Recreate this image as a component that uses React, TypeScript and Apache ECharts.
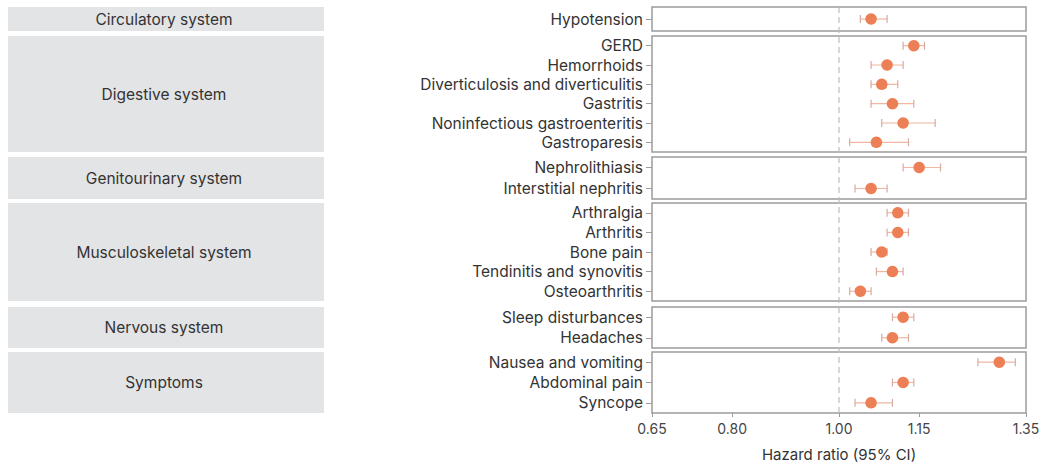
import React, { useEffect, useRef } from "react";
import * as echarts from "echarts";

const groupNames = [
  "Circulatory system",
  "Digestive system",
  "Genitourinary system",
  "Musculoskeletal system",
  "Nervous system",
  "Symptoms",
];
const groupSizes = [1, 6, 2, 5, 2, 3];
const rowNames = [
  "Hypotension",
  "GERD",
  "Hemorrhoids",
  "Diverticulosis and diverticulitis",
  "Gastritis",
  "Noninfectious gastroenteritis",
  "Gastroparesis",
  "Nephrolithiasis",
  "Interstitial nephritis",
  "Arthralgia",
  "Arthritis",
  "Bone pain",
  "Tendinitis and synovitis",
  "Osteoarthritis",
  "Sleep disturbances",
  "Headaches",
  "Nausea and vomiting",
  "Abdominal pain",
  "Syncope",
];
const hrValues = [1.06, 1.14, 1.09, 1.08, 1.1, 1.12, 1.07, 1.15, 1.06, 1.11, 1.11, 1.08, 1.1, 1.04, 1.12, 1.1, 1.3, 1.12, 1.06];
const ciLow = [1.04, 1.12, 1.06, 1.06, 1.06, 1.08, 1.02, 1.12, 1.03, 1.09, 1.09, 1.06, 1.07, 1.02, 1.1, 1.08, 1.26, 1.1, 1.03];
const ciHigh = [1.09, 1.16, 1.12, 1.11, 1.14, 1.18, 1.13, 1.19, 1.09, 1.13, 1.13, 1.09, 1.12, 1.06, 1.14, 1.13, 1.33, 1.14, 1.1];
const xTicks = [0.65, 0.8, 1.0, 1.15, 1.35];
const xMin = 0.65;
const xMax = 1.35;
const refValue = 1.0;

// layout (pixels)
const boxTops = [7, 36, 157, 203, 307, 352];
const boxBottoms = [31, 152, 199, 301, 348, 413];
const plotLeft = 652;
const plotRight = 1026;
const leftBoxX = 8;
const leftBoxW = 316;
const FONT = "Inter, Roboto, sans-serif";

export default function App() {
  const ref = useRef<HTMLDivElement>(null);
  useEffect(() => {
    document.body.style.margin = "0";
    const chart = echarts.init(ref.current!, null, { renderer: "svg" });
    const W = 1064;
    const grids: any[] = [];
    const xAxes: any[] = [];
    const yAxes: any[] = [];
    const series: any[] = [];
    const graphics: any[] = [];
    let start = 0;
    groupNames.forEach((g, gi) => {
      const n = groupSizes[gi];
      const names = rowNames.slice(start, start + n);
      const isLast = gi === groupNames.length - 1;
      grids.push({
        left: plotLeft,
        right: W - plotRight,
        top: boxTops[gi],
        height: boxBottoms[gi] - boxTops[gi],
        show: true,
        borderColor: "#9c9c9c",
        borderWidth: 1.5,
        backgroundColor: "transparent",
      });
      xAxes.push({
        type: "value",
        gridIndex: gi,
        min: xMin,
        max: xMax,
        splitLine: { show: false },
        axisLine: { show: false },
        axisTick: isLast
          ? { show: true, customValues: xTicks, length: 4, lineStyle: { color: "#9c9c9c" } }
          : { show: false },
        axisLabel: isLast
          ? {
              show: true,
              customValues: xTicks,
              formatter: (v: number) => v.toFixed(2),
              fontFamily: FONT,
              fontSize: 14,
              color: "#444",
              margin: 8,
            }
          : { show: false },
        name: isLast ? "Hazard ratio (95% CI)" : "",
        nameLocation: "middle",
        nameGap: 34,
        nameTextStyle: { fontFamily: FONT, fontSize: 15, color: "#333" },
      });
      yAxes.push({
        type: "category",
        gridIndex: gi,
        data: names,
        inverse: true,
        axisLine: { show: false },
        axisTick: { show: true, alignWithLabel: true, interval: 0, length: 6, lineStyle: { color: "#9c9c9c" } },
        axisLabel: { interval: 0, fontFamily: FONT, fontSize: 15.5, lineHeight: 16, color: "#333", margin: 9 },
        splitLine: { show: false },
      });
      const errData = names.map((_, i) => [ciLow[start + i], ciHigh[start + i], i]);
      series.push({
        type: "custom",
        xAxisIndex: gi,
        yAxisIndex: gi,
        data: errData,
        silent: true,
        renderItem: (params: any, api: any) => {
          const lo = api.coord([api.value(0), api.value(2)]);
          const hi = api.coord([api.value(1), api.value(2)]);
          const c = 4;
          const lineStyle = { stroke: "#f0b6a0", lineWidth: 1.2 };
          const capStyle = { stroke: "#d8aaa2", lineWidth: 1.2 };
          return {
            type: "group",
            children: [
              { type: "line", shape: { x1: lo[0], y1: lo[1], x2: hi[0], y2: hi[1] }, style: lineStyle },
              { type: "line", shape: { x1: lo[0], y1: lo[1] - c, x2: lo[0], y2: lo[1] + c }, style: capStyle },
              { type: "line", shape: { x1: hi[0], y1: hi[1] - c, x2: hi[0], y2: hi[1] + c }, style: capStyle },
            ],
          };
        },
        z: 2,
      });
      series.push({
        type: "scatter",
        xAxisIndex: gi,
        yAxisIndex: gi,
        data: names.map((_, i) => [hrValues[start + i], i]),
        symbolSize: 11.5,
        itemStyle: { color: "#ec7f55", opacity: 1 },
        z: 3,
      });
      graphics.push({
        type: "rect",
        shape: { x: leftBoxX, y: boxTops[gi], width: leftBoxW, height: boxBottoms[gi] - boxTops[gi] },
        style: { fill: "#e3e4e6" },
        z: -1,
      });
      graphics.push({
        type: "text",
        x: leftBoxX + leftBoxW / 2 - 2,
        y: (boxTops[gi] + boxBottoms[gi]) / 2,
        style: {
          text: g,
          fontFamily: FONT,
          fontSize: 15.5,
          fill: "#333",
          align: "center",
          verticalAlign: "middle",
        },
      });
      start += n;
    });
    chart.setOption({
      animation: false,
      backgroundColor: "#fff",
      grid: grids,
      xAxis: xAxes,
      yAxis: yAxes,
      series,
      graphic: graphics,
    });
    const refX = chart.convertToPixel({ xAxisIndex: 0 }, refValue) as number;
    chart.setOption({
      graphic: [
        ...graphics,
        {
          type: "line",
          shape: { x1: refX, y1: boxTops[0], x2: refX, y2: boxBottoms[boxBottoms.length - 1] },
          style: { stroke: "#bdbdbd", lineWidth: 1.2, lineDash: [6, 4] },
          z: 1,
          silent: true,
        },
      ],
    });
    return () => chart.dispose();
  }, []);
  return <div ref={ref} style={{ width: 1064, height: 475 }} />;
}
